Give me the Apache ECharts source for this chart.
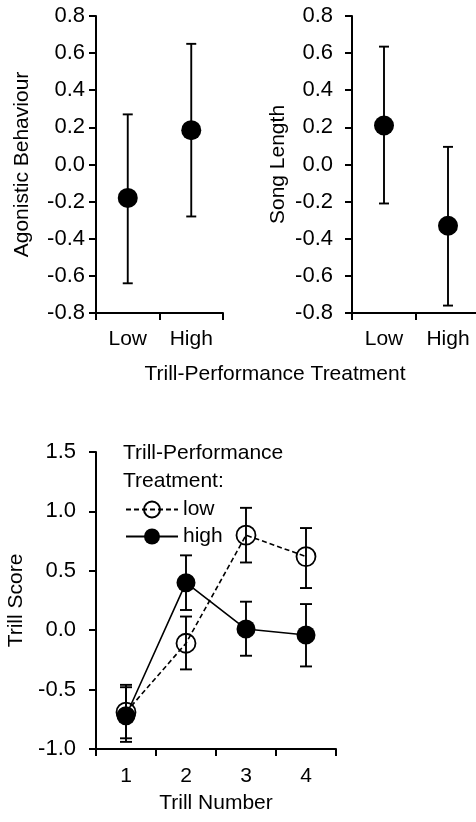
<!DOCTYPE html>
<html><head><meta charset="utf-8">
<script src="https://cdn.jsdelivr.net/npm/echarts@6/dist/echarts.min.js"></script>
<style>html,body{margin:0;padding:0;background:#fff}#c{width:476px;height:822px}</style>
</head><body><div id="c"></div>
<script>
// ---- data ----
const treatmentCats = ['Low', 'High'];
const agonMean  = [-0.18, 0.185];
const agonUpper = [0.27, 0.65];
const agonLower = [-0.64, -0.28];
const songMean  = [0.21, -0.33];
const songUpper = [0.635, 0.095];
const songLower = [-0.21, -0.76];
const trillCats = ['1', '2', '3', '4'];
const lowMean   = [-0.69, -0.11, 0.80, 0.62];
const lowUpper  = [-0.46, 0.115, 1.03, 0.86];
const lowLower  = [-0.91, -0.33, 0.57, 0.355];
const highMean  = [-0.72, 0.40, 0.01, -0.04];
const highUpper = [-0.48, 0.63, 0.24, 0.22];
const highLower = [-0.94, 0.17, -0.215, -0.305];

const FONT = '"Liberation Sans", Arial, sans-serif';
const BLACK = '#000';
const LW = 1.9;

function errData(lower, upper) { return lower.map((l, i) => [i, l, upper[i]]); }
function errRender(capHalf) {
  return function (params, api) {
    const x = api.value(0), lo = api.value(1), hi = api.value(2);
    const a = api.coord([x, hi]), b = api.coord([x, lo]);
    const st = { stroke: BLACK, lineWidth: LW, fill: null };
    return { type: 'group', children: [
      { type: 'line', shape: { x1: a[0], y1: a[1], x2: b[0], y2: b[1] }, style: st },
      { type: 'line', shape: { x1: a[0] - capHalf, y1: a[1], x2: a[0] + capHalf, y2: a[1] }, style: st },
      { type: 'line', shape: { x1: b[0] - capHalf, y1: b[1], x2: b[0] + capHalf, y2: b[1] }, style: st }
    ]};
  };
}
function yAxis(gi, min, max, interval, name, margin, gap) {
  return {
    type: 'value', gridIndex: gi, min: min, max: max, interval: interval,
    name: name, nameLocation: 'middle', nameGap: gap,
    nameTextStyle: { fontFamily: FONT, fontSize: 21, color: BLACK },
    axisLine: { show: true, lineStyle: { color: BLACK, width: 2 } },
    axisTick: { show: true, inside: false, length: 7, lineStyle: { color: BLACK, width: 2 } },
    splitLine: { show: false },
    axisLabel: { fontFamily: FONT, fontSize: 22, color: BLACK, margin: margin,
      formatter: v => (Math.abs(v) < 1e-9 ? 0 : v).toFixed(1) }
  };
}
function xAxis(gi, cats, margin, name, nameGap) {
  return {
    type: 'category', gridIndex: gi, data: cats,
    name: name || '', nameLocation: 'middle', nameGap: nameGap || 40,
    nameTextStyle: { fontFamily: FONT, fontSize: 21, color: BLACK },
    axisLine: { show: true, onZero: false, lineStyle: { color: BLACK, width: 2 } },
    axisTick: { show: true, inside: false, length: 7, lineStyle: { color: BLACK, width: 2 } },
    splitLine: { show: false },
    axisLabel: { fontFamily: FONT, fontSize: 21, color: BLACK, margin: margin, interval: 0 }
  };
}

const chart = echarts.init(document.getElementById('c'), null, { renderer: 'canvas' });
chart.setOption({
  backgroundColor: '#fff',
  animation: false,
  title: {
    text: 'Trill-Performance\nTreatment:', left: 123, top: 439, padding: 0,
    textStyle: { fontFamily: FONT, fontSize: 21, fontWeight: 'normal', color: BLACK, lineHeight: 28 }
  },
  legend: {
    data: ['low', 'high'], orient: 'vertical', left: 125, top: 499, padding: 0,
    itemWidth: 52, itemHeight: 20, itemGap: 6,
    textStyle: { fontFamily: FONT, fontSize: 21, color: BLACK }, selectedMode: false
  },
  grid: [
    { left: 96, top: 16, width: 127, height: 297, outerBoundsMode: 'none' },
    { left: 352, top: 16, width: 128, height: 297, outerBoundsMode: 'none' },
    { left: 96, top: 452, width: 240, height: 297, outerBoundsMode: 'none' }
  ],
  xAxis: [
    xAxis(0, treatmentCats, 16),
    xAxis(1, treatmentCats, 16),
    xAxis(2, trillCats, 17, 'Trill Number', 44)
  ],
  yAxis: [
    yAxis(0, -0.8, 0.8, 0.2, 'Agonistic Behaviour', 11, 63),
    yAxis(1, -0.8, 0.8, 0.2, 'Song Length', 19, 63),
    yAxis(2, -1.0, 1.5, 0.5, 'Trill Score', 20, 64)
  ],
  graphic: [{
    type: 'text', x: 275, y: 364,
    style: { text: 'Trill-Performance Treatment', fontFamily: FONT, fontSize: 21, fill: BLACK,
      align: 'center', verticalAlign: 'top' }
  }],
  series: [
    { type: 'custom', xAxisIndex: 0, yAxisIndex: 0, renderItem: errRender(5), data: errData(agonLower, agonUpper), encode: { x: 0, y: [1, 2] }, silent: true, z: 1 },
    { type: 'scatter', xAxisIndex: 0, yAxisIndex: 0, data: agonMean, symbol: 'circle', symbolSize: 20, itemStyle: { color: BLACK, opacity: 1 }, silent: true, z: 3 },
    { type: 'custom', xAxisIndex: 1, yAxisIndex: 1, renderItem: errRender(5), data: errData(songLower, songUpper), encode: { x: 0, y: [1, 2] }, silent: true, z: 1 },
    { type: 'scatter', xAxisIndex: 1, yAxisIndex: 1, data: songMean, symbol: 'circle', symbolSize: 20, itemStyle: { color: BLACK, opacity: 1 }, silent: true, z: 3 },
    { type: 'custom', xAxisIndex: 2, yAxisIndex: 2, renderItem: errRender(6), data: errData(lowLower, lowUpper), encode: { x: 0, y: [1, 2] }, silent: true, z: 1 },
    { type: 'custom', xAxisIndex: 2, yAxisIndex: 2, renderItem: errRender(6), data: errData(highLower, highUpper), encode: { x: 0, y: [1, 2] }, silent: true, z: 1 },
    { name: 'low', type: 'line', xAxisIndex: 2, yAxisIndex: 2, data: lowMean, symbol: 'circle', symbolSize: 19, showSymbol: true,
      lineStyle: { color: BLACK, width: 1.6, type: [5, 3] },
      itemStyle: { color: 'rgba(0,0,0,0)', borderColor: BLACK, borderWidth: 1.8 }, silent: true, z: 3 },
    { name: 'high', type: 'line', xAxisIndex: 2, yAxisIndex: 2, data: highMean, symbol: 'circle', symbolSize: 19, showSymbol: true,
      lineStyle: { color: BLACK, width: 1.6, type: 'solid' },
      itemStyle: { color: BLACK, borderColor: BLACK, borderWidth: 0 }, silent: true, z: 4 }
  ]
});
</script>
</body></html>
